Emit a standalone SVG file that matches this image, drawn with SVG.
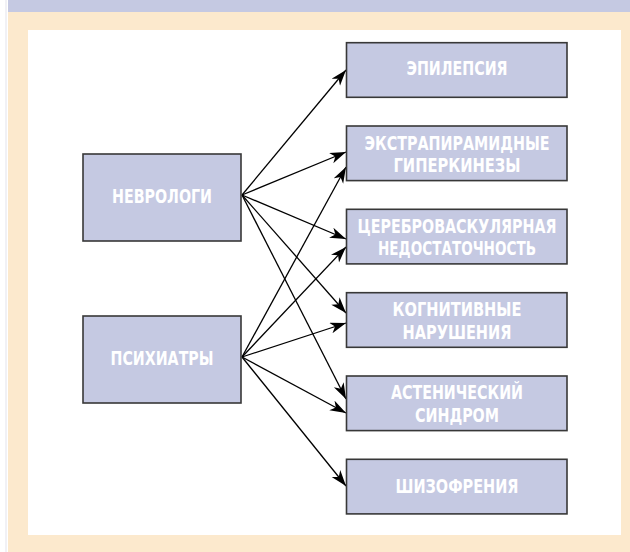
<svg xmlns="http://www.w3.org/2000/svg" width="630" height="552" viewBox="0 0 630 552">
  <style>
    .box { fill: #c5c9e2; stroke: #383838; stroke-width: 1.6; }
    .lbl { fill: #ffffff; font-family: "Liberation Sans Narrow", "DejaVu Sans Condensed", "Liberation Sans", sans-serif; font-stretch: condensed; font-weight: bold; font-size: 20px; text-anchor: middle; }
    .edge { stroke: #000000; stroke-width: 1.3; fill: none; marker-end: url(#arr); }
  </style>
  <defs>
    <marker id="arr" markerUnits="userSpaceOnUse" markerWidth="18" markerHeight="12" refX="16" refY="5.5" orient="auto">
      <path d="M0,0 L16,5.5 L0,11 L4.5,5.5 Z" fill="#000000"/>
    </marker>
  </defs>
  <rect x="0" y="0" width="630" height="552" fill="#ffffff"/>
  <rect x="5.5" y="0" width="1" height="552" fill="#e4e4ec"/>
  <rect x="8" y="12" width="622" height="540" fill="#fce9cd"/>
  <rect x="8" y="0" width="622" height="12" fill="#c5c9e2"/>
  <rect x="28" y="30" width="593" height="505" fill="#ffffff"/>

  <g id="connectors">
    <line class="edge" x1="242" y1="195" x2="346" y2="70"/>
    <line class="edge" x1="242" y1="195" x2="346" y2="152"/>
    <line class="edge" x1="242" y1="195" x2="346" y2="239"/>
    <line class="edge" x1="242" y1="195" x2="346" y2="313"/>
    <line class="edge" x1="242" y1="195" x2="346" y2="399"/>
    <line class="edge" x1="242" y1="357" x2="346" y2="167"/>
    <line class="edge" x1="242" y1="357" x2="346" y2="247"/>
    <line class="edge" x1="242" y1="357" x2="346" y2="323"/>
    <line class="edge" x1="242" y1="357" x2="346" y2="413"/>
    <line class="edge" x1="242" y1="357" x2="346" y2="486"/>
  </g>

  <g id="nevrologi">
    <rect class="box" x="83" y="154" width="158" height="87"/>
    <text class="lbl" x="162" y="203" textLength="100" lengthAdjust="spacingAndGlyphs">НЕВРОЛОГИ</text>
  </g>
  <g id="psihiatry">
    <rect class="box" x="83" y="316" width="158" height="87"/>
    <text class="lbl" x="162" y="365" textLength="103" lengthAdjust="spacingAndGlyphs">ПСИХИАТРЫ</text>
  </g>

  <g id="epilepsiya">
    <rect class="box" x="346.5" y="42.7" width="220.5" height="54.6"/>
    <text class="lbl" x="457" y="75" textLength="101" lengthAdjust="spacingAndGlyphs">ЭПИЛЕПСИЯ</text>
  </g>
  <g id="ekstrapiramidnye">
    <rect class="box" x="346.5" y="126" width="220.5" height="54.6"/>
    <text class="lbl" x="457" y="149.5" textLength="185" lengthAdjust="spacingAndGlyphs">ЭКСТРАПИРАМИДНЫЕ</text>
    <text class="lbl" x="457" y="171.5" textLength="127" lengthAdjust="spacingAndGlyphs">ГИПЕРКИНЕЗЫ</text>
  </g>
  <g id="cerebrovaskulyarnaya">
    <rect class="box" x="346.5" y="209.3" width="220.5" height="54.6"/>
    <text class="lbl" x="457" y="232.5" textLength="199" lengthAdjust="spacingAndGlyphs">ЦЕРЕБРОВАСКУЛЯРНАЯ</text>
    <text class="lbl" x="457" y="255" textLength="158" lengthAdjust="spacingAndGlyphs">НЕДОСТАТОЧНОСТЬ</text>
  </g>
  <g id="kognitivnye">
    <rect class="box" x="346.5" y="292.7" width="220.5" height="54.6"/>
    <text class="lbl" x="457" y="315.8" textLength="129" lengthAdjust="spacingAndGlyphs">КОГНИТИВНЫЕ</text>
    <text class="lbl" x="457" y="338.5" textLength="109" lengthAdjust="spacingAndGlyphs">НАРУШЕНИЯ</text>
  </g>
  <g id="astenicheskiy">
    <rect class="box" x="346.5" y="376" width="220.5" height="54.6"/>
    <text class="lbl" x="457" y="399.3" textLength="132" lengthAdjust="spacingAndGlyphs">АСТЕНИЧЕСКИЙ</text>
    <text class="lbl" x="457" y="422.3" textLength="84" lengthAdjust="spacingAndGlyphs">СИНДРОМ</text>
  </g>
  <g id="shizofreniya">
    <rect class="box" x="346.5" y="459.3" width="220.5" height="54.6"/>
    <text class="lbl" x="457" y="493" textLength="123" lengthAdjust="spacingAndGlyphs">ШИЗОФРЕНИЯ</text>
  </g>
</svg>
